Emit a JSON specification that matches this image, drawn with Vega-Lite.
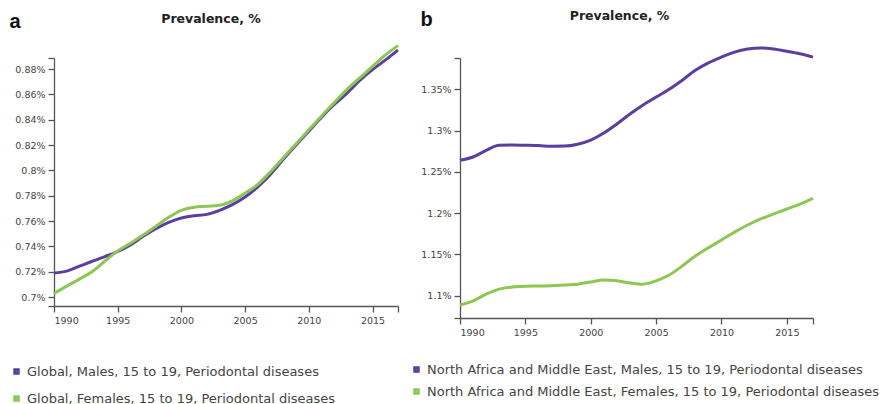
{
  "$schema": "https://vega.github.io/schema/vega-lite/v6.json",
  "background": "white",
  "padding": {"left": 9, "top": 9, "right": 0, "bottom": 0},
  "spacing": 6,
  "config": {
    "view": {"stroke": null},
    "font": "DejaVu Sans",
    "axis": {"grid": false, "domainColor": "#555", "tickColor": "#555", "labelColor": "#444", "labelFont": "DejaVu Sans", "labelFontSize": 9.5, "tickSize": 6, "domainWidth": 1.3, "tickWidth": 1.3, "labelPadding": 3},
    "title": {"font": "DejaVu Sans", "fontSize": 12.5, "fontWeight": "bold", "color": "#222", "frame": "group"},
    "legend": {"labelFont": "DejaVu Sans", "labelFontSize": 13, "labelColor": "#444", "symbolType": "square", "symbolSize": 12, "symbolStrokeWidth": 3, "labelLimit": 600}
  },
  "resolve": {"scale": {"color": "independent"}, "legend": {"color": "independent"}},
  "hconcat": [
    {
      "width": 344,
      "height": 248,
      "title": {"text": "Prevalence, %", "dx": -15, "offset": -14},
      "data": {"values": [
        {"year": 1990, "value": 0.719, "series": "Global, Males, 15 to 19, Periodontal diseases"},
        {"year": 1991, "value": 0.7205, "series": "Global, Males, 15 to 19, Periodontal diseases"},
        {"year": 1992, "value": 0.7244, "series": "Global, Males, 15 to 19, Periodontal diseases"},
        {"year": 1993, "value": 0.7283, "series": "Global, Males, 15 to 19, Periodontal diseases"},
        {"year": 1994, "value": 0.732, "series": "Global, Males, 15 to 19, Periodontal diseases"},
        {"year": 1995, "value": 0.736, "series": "Global, Males, 15 to 19, Periodontal diseases"},
        {"year": 1996, "value": 0.7412, "series": "Global, Males, 15 to 19, Periodontal diseases"},
        {"year": 1997, "value": 0.748, "series": "Global, Males, 15 to 19, Periodontal diseases"},
        {"year": 1998, "value": 0.754, "series": "Global, Males, 15 to 19, Periodontal diseases"},
        {"year": 1999, "value": 0.759, "series": "Global, Males, 15 to 19, Periodontal diseases"},
        {"year": 2000, "value": 0.7625, "series": "Global, Males, 15 to 19, Periodontal diseases"},
        {"year": 2001, "value": 0.7642, "series": "Global, Males, 15 to 19, Periodontal diseases"},
        {"year": 2002, "value": 0.7653, "series": "Global, Males, 15 to 19, Periodontal diseases"},
        {"year": 2003, "value": 0.7685, "series": "Global, Males, 15 to 19, Periodontal diseases"},
        {"year": 2004, "value": 0.773, "series": "Global, Males, 15 to 19, Periodontal diseases"},
        {"year": 2005, "value": 0.779, "series": "Global, Males, 15 to 19, Periodontal diseases"},
        {"year": 2006, "value": 0.787, "series": "Global, Males, 15 to 19, Periodontal diseases"},
        {"year": 2007, "value": 0.797, "series": "Global, Males, 15 to 19, Periodontal diseases"},
        {"year": 2008, "value": 0.8087, "series": "Global, Males, 15 to 19, Periodontal diseases"},
        {"year": 2009, "value": 0.82, "series": "Global, Males, 15 to 19, Periodontal diseases"},
        {"year": 2010, "value": 0.831, "series": "Global, Males, 15 to 19, Periodontal diseases"},
        {"year": 2011, "value": 0.842, "series": "Global, Males, 15 to 19, Periodontal diseases"},
        {"year": 2012, "value": 0.852, "series": "Global, Males, 15 to 19, Periodontal diseases"},
        {"year": 2013, "value": 0.861, "series": "Global, Males, 15 to 19, Periodontal diseases"},
        {"year": 2014, "value": 0.871, "series": "Global, Males, 15 to 19, Periodontal diseases"},
        {"year": 2015, "value": 0.8795, "series": "Global, Males, 15 to 19, Periodontal diseases"},
        {"year": 2016, "value": 0.887, "series": "Global, Males, 15 to 19, Periodontal diseases"},
        {"year": 2017, "value": 0.895, "series": "Global, Males, 15 to 19, Periodontal diseases"},
        {"year": 1990, "value": 0.703, "series": "Global, Females, 15 to 19, Periodontal diseases"},
        {"year": 1991, "value": 0.7087, "series": "Global, Females, 15 to 19, Periodontal diseases"},
        {"year": 1992, "value": 0.7142, "series": "Global, Females, 15 to 19, Periodontal diseases"},
        {"year": 1993, "value": 0.7202, "series": "Global, Females, 15 to 19, Periodontal diseases"},
        {"year": 1994, "value": 0.7285, "series": "Global, Females, 15 to 19, Periodontal diseases"},
        {"year": 1995, "value": 0.7365, "series": "Global, Females, 15 to 19, Periodontal diseases"},
        {"year": 1996, "value": 0.7425, "series": "Global, Females, 15 to 19, Periodontal diseases"},
        {"year": 1997, "value": 0.749, "series": "Global, Females, 15 to 19, Periodontal diseases"},
        {"year": 1998, "value": 0.756, "series": "Global, Females, 15 to 19, Periodontal diseases"},
        {"year": 1999, "value": 0.763, "series": "Global, Females, 15 to 19, Periodontal diseases"},
        {"year": 2000, "value": 0.7685, "series": "Global, Females, 15 to 19, Periodontal diseases"},
        {"year": 2001, "value": 0.771, "series": "Global, Females, 15 to 19, Periodontal diseases"},
        {"year": 2002, "value": 0.7717, "series": "Global, Females, 15 to 19, Periodontal diseases"},
        {"year": 2003, "value": 0.7725, "series": "Global, Females, 15 to 19, Periodontal diseases"},
        {"year": 2004, "value": 0.776, "series": "Global, Females, 15 to 19, Periodontal diseases"},
        {"year": 2005, "value": 0.782, "series": "Global, Females, 15 to 19, Periodontal diseases"},
        {"year": 2006, "value": 0.789, "series": "Global, Females, 15 to 19, Periodontal diseases"},
        {"year": 2007, "value": 0.799, "series": "Global, Females, 15 to 19, Periodontal diseases"},
        {"year": 2008, "value": 0.81, "series": "Global, Females, 15 to 19, Periodontal diseases"},
        {"year": 2009, "value": 0.821, "series": "Global, Females, 15 to 19, Periodontal diseases"},
        {"year": 2010, "value": 0.832, "series": "Global, Females, 15 to 19, Periodontal diseases"},
        {"year": 2011, "value": 0.843, "series": "Global, Females, 15 to 19, Periodontal diseases"},
        {"year": 2012, "value": 0.8535, "series": "Global, Females, 15 to 19, Periodontal diseases"},
        {"year": 2013, "value": 0.864, "series": "Global, Females, 15 to 19, Periodontal diseases"},
        {"year": 2014, "value": 0.873, "series": "Global, Females, 15 to 19, Periodontal diseases"},
        {"year": 2015, "value": 0.882, "series": "Global, Females, 15 to 19, Periodontal diseases"},
        {"year": 2016, "value": 0.891, "series": "Global, Females, 15 to 19, Periodontal diseases"},
        {"year": 2017, "value": 0.8985, "series": "Global, Females, 15 to 19, Periodontal diseases"}
      ]},
      "mark": {"type": "line", "strokeWidth": 3, "interpolate": "monotone"},
      "encoding": {
        "x": {"field": "year", "type": "quantitative", "scale": {"domain": [1990, 2017], "nice": false, "zero": false},
          "axis": {"title": null, "values": [1990, 1995, 2000, 2005, 2010, 2015, 2017], "labelExpr": "datum.value == 2017 ? '' : format(datum.value, 'd')"}},
        "y": {"field": "value", "type": "quantitative", "scale": {"domain": [0.693, 0.8887], "nice": false, "zero": false},
          "axis": {"title": "a", "titleAngle": 0, "titleX": -45, "titleY": -31, "titleAlign": "left", "titleBaseline": "alphabetic", "titleFont": "Liberation Sans", "titleFontSize": 20, "titleFontWeight": "bold", "titleColor": "#111",
            "values": [0.693, 0.7, 0.72, 0.74, 0.76, 0.78, 0.8, 0.82, 0.84, 0.86, 0.88, 0.8887],
            "labelExpr": "datum.value < 0.695 || datum.value > 0.885 ? '' : format(datum.value, '~g') + '%'"}},
        "color": {"field": "series", "type": "nominal",
          "scale": {"domain": ["Global, Males, 15 to 19, Periodontal diseases", "Global, Females, 15 to 19, Periodontal diseases"], "range": ["#5b3f9e", "#8cc653"]},
          "legend": {"title": null, "orient": "none", "legendX": -44, "legendY": 307, "direction": "vertical", "rowPadding": 10}}
      }
    },
    {
      "width": 353,
      "height": 260,
      "title": {"text": "Prevalence, %", "dx": -17, "offset": -13},
      "data": {"values": [
        {"year": 1990, "value": 1.264, "series": "North Africa and Middle East, Males, 15 to 19, Periodontal diseases"},
        {"year": 1991, "value": 1.268, "series": "North Africa and Middle East, Males, 15 to 19, Periodontal diseases"},
        {"year": 1992, "value": 1.276, "series": "North Africa and Middle East, Males, 15 to 19, Periodontal diseases"},
        {"year": 1993, "value": 1.2822, "series": "North Africa and Middle East, Males, 15 to 19, Periodontal diseases"},
        {"year": 1994, "value": 1.2825, "series": "North Africa and Middle East, Males, 15 to 19, Periodontal diseases"},
        {"year": 1995, "value": 1.2822, "series": "North Africa and Middle East, Males, 15 to 19, Periodontal diseases"},
        {"year": 1996, "value": 1.2818, "series": "North Africa and Middle East, Males, 15 to 19, Periodontal diseases"},
        {"year": 1997, "value": 1.281, "series": "North Africa and Middle East, Males, 15 to 19, Periodontal diseases"},
        {"year": 1998, "value": 1.2812, "series": "North Africa and Middle East, Males, 15 to 19, Periodontal diseases"},
        {"year": 1999, "value": 1.2835, "series": "North Africa and Middle East, Males, 15 to 19, Periodontal diseases"},
        {"year": 2000, "value": 1.2885, "series": "North Africa and Middle East, Males, 15 to 19, Periodontal diseases"},
        {"year": 2001, "value": 1.297, "series": "North Africa and Middle East, Males, 15 to 19, Periodontal diseases"},
        {"year": 2002, "value": 1.308, "series": "North Africa and Middle East, Males, 15 to 19, Periodontal diseases"},
        {"year": 2003, "value": 1.32, "series": "North Africa and Middle East, Males, 15 to 19, Periodontal diseases"},
        {"year": 2004, "value": 1.331, "series": "North Africa and Middle East, Males, 15 to 19, Periodontal diseases"},
        {"year": 2005, "value": 1.3406, "series": "North Africa and Middle East, Males, 15 to 19, Periodontal diseases"},
        {"year": 2006, "value": 1.35, "series": "North Africa and Middle East, Males, 15 to 19, Periodontal diseases"},
        {"year": 2007, "value": 1.361, "series": "North Africa and Middle East, Males, 15 to 19, Periodontal diseases"},
        {"year": 2008, "value": 1.373, "series": "North Africa and Middle East, Males, 15 to 19, Periodontal diseases"},
        {"year": 2009, "value": 1.382, "series": "North Africa and Middle East, Males, 15 to 19, Periodontal diseases"},
        {"year": 2010, "value": 1.389, "series": "North Africa and Middle East, Males, 15 to 19, Periodontal diseases"},
        {"year": 2011, "value": 1.395, "series": "North Africa and Middle East, Males, 15 to 19, Periodontal diseases"},
        {"year": 2012, "value": 1.3987, "series": "North Africa and Middle East, Males, 15 to 19, Periodontal diseases"},
        {"year": 2013, "value": 1.4, "series": "North Africa and Middle East, Males, 15 to 19, Periodontal diseases"},
        {"year": 2014, "value": 1.3987, "series": "North Africa and Middle East, Males, 15 to 19, Periodontal diseases"},
        {"year": 2015, "value": 1.396, "series": "North Africa and Middle East, Males, 15 to 19, Periodontal diseases"},
        {"year": 2016, "value": 1.393, "series": "North Africa and Middle East, Males, 15 to 19, Periodontal diseases"},
        {"year": 2017, "value": 1.389, "series": "North Africa and Middle East, Males, 15 to 19, Periodontal diseases"},
        {"year": 1990, "value": 1.0887, "series": "North Africa and Middle East, Females, 15 to 19, Periodontal diseases"},
        {"year": 1991, "value": 1.0936, "series": "North Africa and Middle East, Females, 15 to 19, Periodontal diseases"},
        {"year": 1992, "value": 1.102, "series": "North Africa and Middle East, Females, 15 to 19, Periodontal diseases"},
        {"year": 1993, "value": 1.108, "series": "North Africa and Middle East, Females, 15 to 19, Periodontal diseases"},
        {"year": 1994, "value": 1.1105, "series": "North Africa and Middle East, Females, 15 to 19, Periodontal diseases"},
        {"year": 1995, "value": 1.1115, "series": "North Africa and Middle East, Females, 15 to 19, Periodontal diseases"},
        {"year": 1996, "value": 1.1118, "series": "North Africa and Middle East, Females, 15 to 19, Periodontal diseases"},
        {"year": 1997, "value": 1.112, "series": "North Africa and Middle East, Females, 15 to 19, Periodontal diseases"},
        {"year": 1998, "value": 1.113, "series": "North Africa and Middle East, Females, 15 to 19, Periodontal diseases"},
        {"year": 1999, "value": 1.114, "series": "North Africa and Middle East, Females, 15 to 19, Periodontal diseases"},
        {"year": 2000, "value": 1.1166, "series": "North Africa and Middle East, Females, 15 to 19, Periodontal diseases"},
        {"year": 2001, "value": 1.119, "series": "North Africa and Middle East, Females, 15 to 19, Periodontal diseases"},
        {"year": 2002, "value": 1.118, "series": "North Africa and Middle East, Females, 15 to 19, Periodontal diseases"},
        {"year": 2003, "value": 1.1155, "series": "North Africa and Middle East, Females, 15 to 19, Periodontal diseases"},
        {"year": 2004, "value": 1.114, "series": "North Africa and Middle East, Females, 15 to 19, Periodontal diseases"},
        {"year": 2005, "value": 1.118, "series": "North Africa and Middle East, Females, 15 to 19, Periodontal diseases"},
        {"year": 2006, "value": 1.125, "series": "North Africa and Middle East, Females, 15 to 19, Periodontal diseases"},
        {"year": 2007, "value": 1.136, "series": "North Africa and Middle East, Females, 15 to 19, Periodontal diseases"},
        {"year": 2008, "value": 1.148, "series": "North Africa and Middle East, Females, 15 to 19, Periodontal diseases"},
        {"year": 2009, "value": 1.158, "series": "North Africa and Middle East, Females, 15 to 19, Periodontal diseases"},
        {"year": 2010, "value": 1.1675, "series": "North Africa and Middle East, Females, 15 to 19, Periodontal diseases"},
        {"year": 2011, "value": 1.177, "series": "North Africa and Middle East, Females, 15 to 19, Periodontal diseases"},
        {"year": 2012, "value": 1.1856, "series": "North Africa and Middle East, Females, 15 to 19, Periodontal diseases"},
        {"year": 2013, "value": 1.193, "series": "North Africa and Middle East, Females, 15 to 19, Periodontal diseases"},
        {"year": 2014, "value": 1.199, "series": "North Africa and Middle East, Females, 15 to 19, Periodontal diseases"},
        {"year": 2015, "value": 1.205, "series": "North Africa and Middle East, Females, 15 to 19, Periodontal diseases"},
        {"year": 2016, "value": 1.211, "series": "North Africa and Middle East, Females, 15 to 19, Periodontal diseases"},
        {"year": 2017, "value": 1.218, "series": "North Africa and Middle East, Females, 15 to 19, Periodontal diseases"}
      ]},
      "mark": {"type": "line", "strokeWidth": 3, "interpolate": "monotone"},
      "encoding": {
        "x": {"field": "year", "type": "quantitative", "scale": {"domain": [1990, 2017], "nice": false, "zero": false},
          "axis": {"title": null, "values": [1990, 1995, 2000, 2005, 2010, 2015, 2017], "labelExpr": "datum.value == 2017 ? '' : format(datum.value, 'd')"}},
        "y": {"field": "value", "type": "quantitative", "scale": {"domain": [1.073, 1.3879], "nice": false, "zero": false},
          "axis": {"title": "b", "titleAngle": 0, "titleX": -40, "titleY": -33, "titleAlign": "left", "titleBaseline": "alphabetic", "titleFont": "Liberation Sans", "titleFontSize": 20, "titleFontWeight": "bold", "titleColor": "#111",
            "values": [1.073, 1.1, 1.15, 1.2, 1.25, 1.3, 1.35, 1.3879],
            "labelExpr": "datum.value < 1.08 || datum.value > 1.38 ? '' : format(datum.value, '~g') + '%'"}},
        "color": {"field": "series", "type": "nominal",
          "scale": {"domain": ["North Africa and Middle East, Males, 15 to 19, Periodontal diseases", "North Africa and Middle East, Females, 15 to 19, Periodontal diseases"], "range": ["#5b3f9e", "#8cc653"]},
          "legend": {"title": null, "orient": "none", "legendX": -50, "legendY": 305, "direction": "vertical", "rowPadding": 5}}
      }
    }
  ]
}
